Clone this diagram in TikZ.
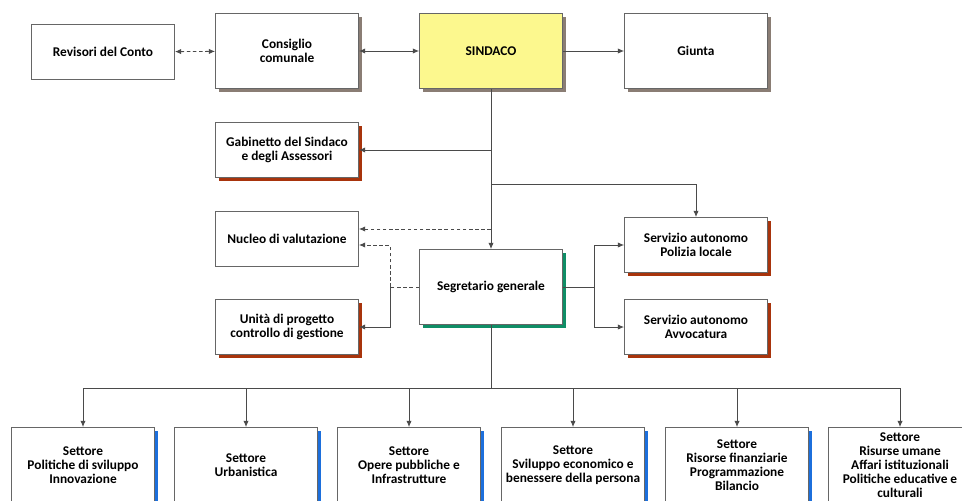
\documentclass[tikz,border=0pt]{standalone}
\usepackage{fontspec}
\setmainfont{Carlito}
\usepackage{tikz}
\usetikzlibrary{positioning, arrows.meta, calc, shadows}

\definecolor{sindacogiallo}{HTML}{FCF88E}
\definecolor{ombragrigia}{HTML}{8A7D74}
\definecolor{ombrarossa}{HTML}{A8340C}
\definecolor{ombraverde}{HTML}{0F8E66}
\definecolor{ombrablu}{HTML}{1C6FDC}
\definecolor{linea}{HTML}{4A4A4A}

\tikzset{
  ufficio/.style={draw=gray!80!black, fill=white, line width=0.5pt, align=center,
    minimum width=2.86cm, font=\fontsize{7.6}{8}\selectfont\bfseries, inner sep=1pt},
  alto/.style={minimum height=1.5cm},
  basso/.style={minimum height=1.1cm},
  ombra/.style={drop shadow={shadow xshift=1.9pt, shadow yshift=-1.9pt, fill=#1, opacity=1}},
  freccia/.style={draw=linea, line width=0.5pt, -{Latex[length=3.5pt,width=3pt]}},
  doppia/.style={draw=linea, line width=0.5pt, {Latex[length=3.5pt,width=3pt]}-{Latex[length=3.5pt,width=3pt]}},
  filo/.style={draw=linea, line width=0.5pt},
  tratto/.style={dash pattern=on 2pt off 1.5pt}
}

\begin{document}
\begin{tikzpicture}[x=0.02cm, y=-0.02cm]
\useasboundingbox (0,0) rectangle (962,500);

% vertice
\node[ufficio, basso] (revisori) at (103,52) {Revisori del Conto};
\node[ufficio, alto, ombra=ombragrigia] (consiglio) at (287,51) {Consiglio\\comunale};
\node[ufficio, alto, ombra=ombragrigia, fill=sindacogiallo] (sindaco) at (491,51) {SINDACO};
\node[ufficio, alto, ombra=ombragrigia] (giunta) at (696,51) {Giunta};

% staff
\node[ufficio, basso, ombra=ombrarossa] (gabinetto) at (287,150) {Gabinetto del Sindaco\\e degli Assessori};
\node[ufficio, basso] (nucleo) at (287,239) {Nucleo di valutazione};
\node[ufficio, basso, ombra=ombrarossa] (unita) at (287,327) {Unità di progetto\\controllo di gestione};
\node[ufficio, alto, ombra=ombraverde] (segretario) at (491,287) {Segretario generale};
\node[ufficio, basso, ombra=ombrarossa] (polizia) at (696,245) {Servizio autonomo\\Polizia locale};
\node[ufficio, basso, ombra=ombrarossa] (avvocatura) at (696,327) {Servizio autonomo\\Avvocatura};

% settori
\node[ufficio, alto, ombra=ombrablu] (s1) at (83,465) {Settore\\Politiche di sviluppo\\Innovazione};
\node[ufficio, alto, ombra=ombrablu] (s2) at (246,465) {Settore\\Urbanistica};
\node[ufficio, alto, ombra=ombrablu] (s3) at (409,465) {Settore\\Opere pubbliche e\\Infrastrutture};
\node[ufficio, alto, ombra=ombrablu] (s4) at (573,465) {Settore\\Sviluppo economico e\\benessere della persona};
\node[ufficio, alto, ombra=ombrablu] (s5) at (737,465) {Settore\\Risorse finanziarie\\Programmazione\\Bilancio};
\node[ufficio, alto, ombra=ombrablu] (s6) at (900,465) {Settore\\Risurse umane\\Affari istituzionali\\Politiche educative e\\culturali};

% collegamenti in alto
\draw[doppia, tratto] (revisori) -- (consiglio);
\draw[doppia] (consiglio) -- (sindaco);
\draw[freccia] (sindaco) -- (giunta);

% linea del Sindaco
\coordinate (nodo1) at (491,184);
\coordinate (nodo2) at (491,229);
\draw[freccia] (sindaco.south) -- (segretario.north);
\draw[freccia] (sindaco.south |- gabinetto.east) -- (gabinetto.east);
\draw[freccia] (nodo1) -| (polizia.north);
\draw[freccia, tratto] (nodo2) -- (nodo2 -| nucleo.east);

% Segretario
\coordinate (nodo3) at (390,287);
\coordinate (nodo4) at (594,287);
\draw[filo, tratto] (segretario.west) -- (nodo3);
\draw[freccia, tratto] (nodo3) |- ($(nucleo.east)+(0,6)$);
\draw[freccia] (nodo3) |- (unita.east);
\draw[filo] (segretario.east) -- (nodo4);
\draw[freccia] (nodo4) |- (polizia.west);
\draw[freccia] (nodo4) |- (avvocatura.west);

% settori
\coordinate (bus) at (491,388);
\draw[filo] (segretario.south) -- (bus);
\draw[filo] (s1.north |- bus) -- (s6.north |- bus);
\foreach \i in {1,...,6}
  \draw[freccia] (s\i.north |- bus) -- (s\i.north);
\end{tikzpicture}
\end{document}
